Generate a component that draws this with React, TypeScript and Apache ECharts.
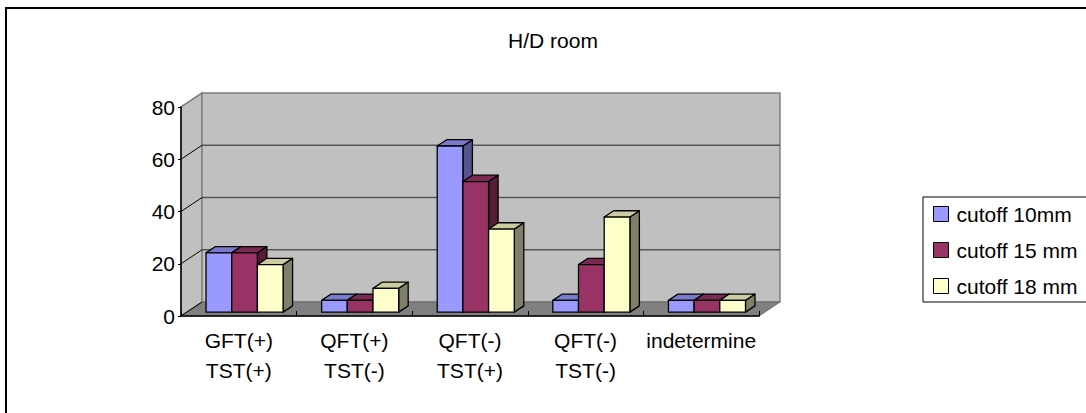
import React, { useEffect, useRef } from "react";
import * as echarts from "echarts";

// ---- data ----
const chartTitle = "H/D room";
const categories = ["GFT(+)\nTST(+)", "QFT(+)\nTST(-)", "QFT(-)\nTST(+)", "QFT(-)\nTST(-)", "indetermine"];
const seriesNames = ["cutoff 10mm", "cutoff 15 mm", "cutoff 18 mm"];
const cutoff10 = [22.7, 4.5, 63.6, 4.5, 4.5];
const cutoff15 = [22.7, 4.5, 50.0, 18.2, 4.5];
const cutoff18 = [18.2, 9.1, 31.8, 36.4, 4.5];
const yTicks = [0, 20, 40, 60, 80];

// ---- style ----
const FONT = "'Liberation Sans', Arial, sans-serif";
const DX = 21;
const DY = -14;
const RECESS = 0.274;
const BAR_DEPTH = 0.452;
const palettes = [
  { front: "#9999FF", top: "#7A7ACC", side: "#55558C" },
  { front: "#993366", top: "#7A2952", side: "#561D3A" },
  { front: "#FFFFCC", top: "#CCCCA3", side: "#80806A" },
];

export default function App() {
  const ref = useRef<HTMLDivElement>(null);
  useEffect(() => {
    if (!ref.current) return;
    const chart = echarts.init(ref.current, undefined, { renderer: "svg" });
    const seriesData = [cutoff10, cutoff15, cutoff18];

    const renderWalls = (params: any, api: any) => {
      const cs = params.coordSys;
      const x = cs.x, y = cs.y, w = cs.width, h = cs.height;
      const children: any[] = [];
      children.push({
        type: "polygon",
        shape: { points: [[x, y], [x + DX, y + DY], [x + DX, y + h + DY], [x, y + h]] },
        style: { fill: "#C0C0C0", stroke: "#808080", lineWidth: 1.5 },
      });
      children.push({
        type: "rect",
        shape: { x: x + DX, y: y + DY, width: w, height: h },
        style: { fill: "#C0C0C0", stroke: "#808080", lineWidth: 1.5 },
      });
      children.push({
        type: "polygon",
        shape: { points: [[x, y + h], [x + w, y + h], [x + w + DX, y + h + DY], [x + DX, y + h + DY]] },
        style: { fill: "#808080", stroke: "#6a6a6a", lineWidth: 1 },
      });
      yTicks.forEach((t) => {
        const yy = api.coord([0, t])[1];
        if (t === 0) {
          children.push({
            type: "line",
            shape: { x1: x, y1: yy, x2: x + DX, y2: yy + DY },
            style: { stroke: "#000", lineWidth: 1 },
          });
          return;
        }
        if (t !== yTicks[yTicks.length - 1]) {
          children.push({
            type: "line",
            shape: { x1: x + DX, y1: yy + DY, x2: x + w + DX, y2: yy + DY },
            style: { stroke: "#555555", lineWidth: 1.5 },
          });
          children.push({
            type: "line",
            shape: { x1: x, y1: yy, x2: x + DX, y2: yy + DY },
            style: { stroke: "#000", lineWidth: 1 },
          });
        } else {
          children.push({
            type: "line",
            shape: { x1: x, y1: yy, x2: x + DX, y2: yy + DY },
            style: { stroke: "#808080", lineWidth: 1.5 },
          });
        }
      });
      return { type: "group", children };
    };

    const makeBarRenderer = (s: number) => (params: any, api: any) => {
      const i = api.value(0);
      const v = api.value(1);
      const base = api.coord([i, 0]);
      const topP = api.coord([i, v]);
      const band = api.size([1, 0])[0];
      const bw = band / 4.5;
      const rx = DX * RECESS, ry = DY * RECESS;
      const dx = DX * BAR_DEPTH, dy = DY * BAR_DEPTH;
      const x = base[0] - 1.5 * bw + s * bw + rx;
      const y0 = base[1] + ry;
      const y1 = topP[1] + ry;
      const pal = palettes[s];
      const stroke = { stroke: "#000", lineWidth: 1.3, lineJoin: "round" };
      return {
        type: "group",
        children: [
          {
            type: "polygon",
            shape: { points: [[x + bw, y1], [x + bw + dx, y1 + dy], [x + bw + dx, y0 + dy], [x + bw, y0]] },
            style: { fill: pal.side, ...stroke },
          },
          {
            type: "polygon",
            shape: { points: [[x, y1], [x + bw, y1], [x + bw + dx, y1 + dy], [x + dx, y1 + dy]] },
            style: { fill: pal.top, ...stroke },
          },
          {
            type: "rect",
            shape: { x, y: y1, width: bw, height: y0 - y1 },
            style: { fill: pal.front, ...stroke },
          },
        ],
      };
    };

    const option: any = {
      animation: false,
      textStyle: { fontFamily: FONT },
      grid: { left: 181, top: 107, width: 578, height: 209, containLabel: false },
      graphic: [
        {
          type: "rect",
          shape: { x: 6, y: 8, width: 1300, height: 700 },
          style: { fill: "none", stroke: "#000", lineWidth: 2 },
          z: 100,
        },
        {
          type: "text",
          x: 553,
          y: 40,
          style: {
            text: chartTitle,
            fontSize: 21,
            fontFamily: FONT,
            fill: "#000",
            align: "center",
            verticalAlign: "middle",
          },
        },
      ],
      legend: {
        orient: "vertical",
        left: 923,
        top: 197,
        padding: [5, 40, 4, 10],
        borderColor: "#000",
        borderWidth: 1,
        backgroundColor: "#fff",
        icon: "rect",
        itemWidth: 15,
        itemHeight: 15,
        itemGap: 12,
        itemStyle: { borderColor: "#000", borderWidth: 1 },
        textStyle: { fontSize: 21, lineHeight: 24, color: "#000", fontFamily: FONT, padding: [0, 0, 0, 3] },
        data: seriesNames,
      },
      xAxis: {
        type: "category",
        data: categories,
        boundaryGap: true,
        z: 10,
        axisLine: { show: true, lineStyle: { color: "#000", width: 1.5 } },
        axisTick: { show: true, inside: true, length: 5, interval: 0, lineStyle: { color: "#000" } },
        axisLabel: { interval: 0, fontSize: 21, lineHeight: 30, margin: 9, color: "#000", fontFamily: FONT },
        splitLine: { show: false },
      },
      yAxis: {
        type: "value",
        min: 0,
        max: 80,
        interval: 20,
        z: 10,
        axisLine: { show: true, lineStyle: { color: "#000", width: 1.5 } },
        axisTick: { show: true, length: 3, lineStyle: { color: "#000" } },
        axisLabel: { fontSize: 21, margin: 6, color: "#000", fontFamily: FONT },
        splitLine: { show: false },
      },
      series: [
        {
          type: "custom",
          name: "walls",
          z: 1,
          silent: true,
          renderItem: renderWalls,
          data: [[0, 0]],
          encode: { x: 0, y: 1 },
        },
        ...seriesNames.map((name, s) => ({
          type: "custom",
          name,
          z: 2,
          itemStyle: { color: palettes[s].front },
          renderItem: makeBarRenderer(s),
          encode: { x: 0, y: 1 },
          data: seriesData[s].map((v, i) => [i, v]),
        })),
      ],
    };
    chart.setOption(option);
    return () => chart.dispose();
  }, []);
  return (
    <div
      ref={ref}
      style={{ position: "fixed", left: 0, top: 0, width: 1086, height: 413, background: "#fff" }}
    />
  );
}
